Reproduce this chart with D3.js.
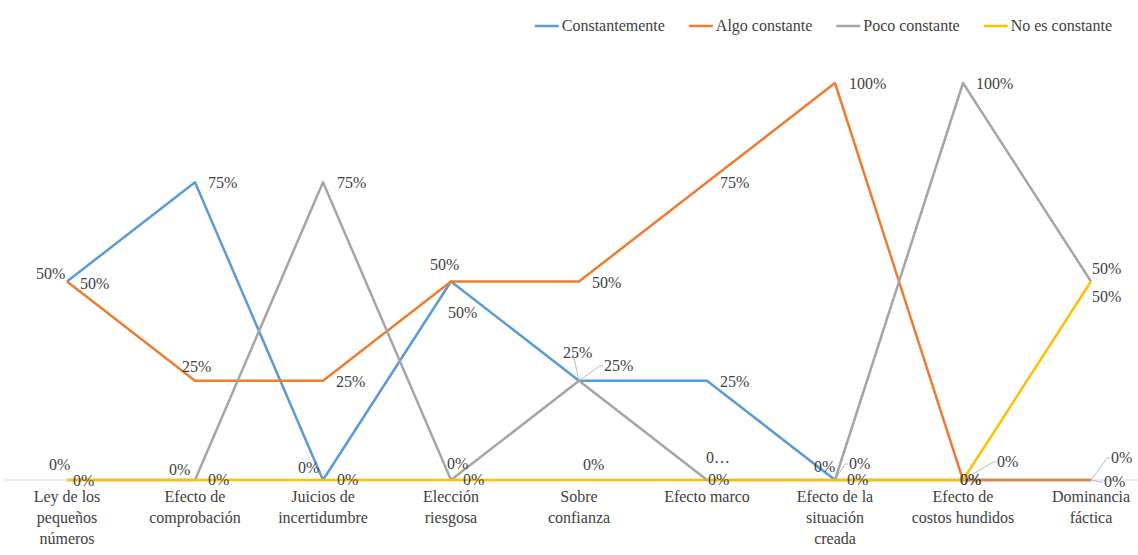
<!DOCTYPE html>
<html>
<head>
<meta charset="utf-8">
<script src="https://cdn.jsdelivr.net/npm/d3@7"></script>
<style>
  html, body { margin: 0; padding: 0; background: #fff; }
  svg { display: block; }
</style>
</head>
<body>
<svg id="chart" width="1138" height="555"></svg>
<script>
// ---- data ----
const categories = [
  "Ley de los\npequeños\nnúmeros",
  "Efecto de\ncomprobación",
  "Juicios de\nincertidumbre",
  "Elección\nriesgosa",
  "Sobre\nconfianza",
  "Efecto marco",
  "Efecto de la\nsituación\ncreada",
  "Efecto de\ncostos hundidos",
  "Dominancia\nfáctica"
];
const seriesNames = ["Constantemente", "Algo constante", "Poco constante", "No es constante"];
const constantemente = [50, 75, 0, 50, 25, 25, 0, 0, 0];
const algoConstante  = [50, 25, 25, 50, 50, 75, 100, 0, 0];
const pocoConstante  = [0, 0, 75, 0, 25, 0, 0, 100, 50];
const noEsConstante  = [0, 0, 0, 0, 0, 0, 0, 0, 50];
const seriesValues = [constantemente, algoConstante, pocoConstante, noEsConstante];
const seriesColors = ["#5B9BD5", "#ED7D31", "#A5A5A5", "#FFC000"];

// ---- label placement (layout only): [dx, dy, leader] relative to point ----
const labelLayout = [
  [[-31,-3],[13,6],[-25,-7],[-3,36],[-16,-23,1],[13,6],[-21,-8],[-3,5],[20,-17,1]],
  [[13,7],[-13,-9],[13,6],[-21,-12],[13,6],[13,6],[14,6],[-3,5],[13,7,1]],
  [[-18,-10],[-26,-5],[14,6],[-4,-11],[25,-10,1],[-1,-17],[14,-11,1],[13,6],[1,-8]],
  [[6,6],[13,5],[14,5],[12,5],[4,-10],[1,5,1],[12,5],[34,-13,1],[1,20]]
];
const labelTextOverride = {"2-5": "0…"};

const FONT = "'Liberation Serif', Tinos, 'Times New Roman', serif";
const FS = 16;
const svg = d3.select("#chart").attr("font-family", FONT);

const x = d3.scaleBand().domain(d3.range(categories.length)).range([3, 1155]).padding(0);
const cx = i => x(i) + x.bandwidth() / 2;
const y = d3.scaleLinear().domain([0, 100]).range([480, 83]);

// axis line
svg.append("line")
  .attr("x1", 3).attr("x2", 1138)
  .attr("y1", y(0)).attr("y2", y(0))
  .attr("stroke", "#d9d9d9").attr("stroke-width", 1);

// category labels
const xAxis = svg.append("g");
categories.forEach((c, i) => {
  const t = xAxis.append("text")
    .attr("x", cx(i)).attr("y", 502)
    .attr("text-anchor", "middle")
    .attr("font-family", FONT)
    .attr("fill", "#404040")
    .attr("font-size", FS);
  c.split("\n").forEach((ln, k) => {
    t.append("tspan").attr("x", cx(i)).attr("dy", k === 0 ? 0 : 21).text(ln);
  });
});

// lines
const line = d3.line().x((d, i) => cx(i)).y(d => y(d));
seriesValues.forEach((vals, s) => {
  svg.append("path")
    .datum(vals)
    .attr("d", line)
    .attr("fill", "none")
    .attr("stroke", seriesColors[s])
    .attr("stroke-width", 2.5)
    .attr("stroke-linejoin", "round");
});

// data labels
const fmt = v => v + "%";
seriesValues.forEach((vals, s) => {
  vals.forEach((v, i) => {
    const [dx, dy, leader] = labelLayout[s][i];
    const px = cx(i), py = y(v);
    const txt = labelTextOverride[s + "-" + i] || fmt(v);
    svg.append("text")
      .attr("x", px + dx).attr("y", py + dy)
      .attr("font-family", FONT)
      .attr("fill", "#404040")
      .attr("font-size", FS)
      .text(txt);
    if (leader) {
      const lx = dx >= 0 ? px + dx - 1 : px + dx + 10;
      const ly = py + dy - 5;
      svg.append("path")
        .attr("d", `M${px},${py}L${lx - (dx >= 0 ? 3 : 0)},${ly}L${lx},${ly}`)
        .attr("fill", "none")
        .attr("stroke", "#a6a6a6").attr("stroke-width", 0.75);
    }
  });
});

// legend (laid out right-to-left, ending near the right edge)
const legend = svg.append("g");
const items = seriesNames.map((n, s) => {
  const t = legend.append("text")
    .attr("y", 31)
    .attr("font-family", FONT)
    .attr("fill", "#404040")
    .attr("font-size", FS)
    .text(n);
  return { t, w: t.node().getComputedTextLength(), s };
});
let right = 1112;
for (let k = items.length - 1; k >= 0; k--) {
  const it = items[k];
  const textX = right - it.w;
  it.t.attr("x", textX);
  legend.append("line")
    .attr("x1", textX - 27).attr("x2", textX - 3)
    .attr("y1", 26).attr("y2", 26)
    .attr("stroke", seriesColors[it.s]).attr("stroke-width", 2.5);
  right = textX - 27 - 24;
}
</script>
</body>
</html>
